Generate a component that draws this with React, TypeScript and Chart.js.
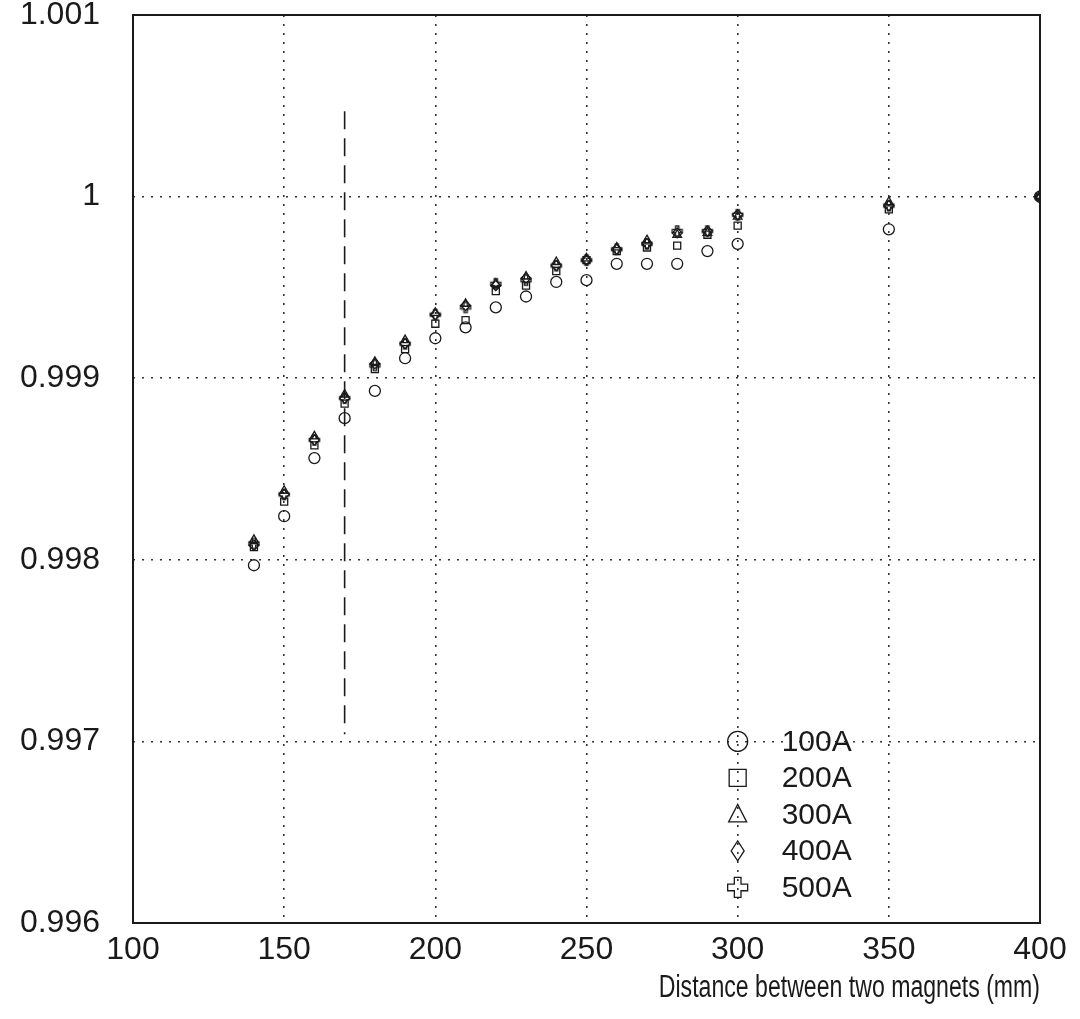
import React, { useEffect, useRef } from "react";
import { Chart, registerables } from "chart.js";

Chart.register(...registerables);

const distances = [140, 150, 160, 170, 180, 190, 200, 210, 220, 230, 240, 250, 260, 270, 280, 290, 300, 350, 400];
const series100A = [0.99797, 0.99824, 0.99856, 0.99878, 0.99893, 0.99911, 0.99922, 0.99928, 0.99939, 0.99945, 0.99953, 0.99954, 0.99963, 0.99963, 0.99963, 0.9997, 0.99974, 0.99982, 1.0];
const series200A = [0.99807, 0.99832, 0.99863, 0.99886, 0.99905, 0.99916, 0.9993, 0.99932, 0.99948, 0.99951, 0.99959, 0.99965, 0.9997, 0.99972, 0.99973, 0.99979, 0.99984, 0.99993, 1.0];
const series300A = [0.99811, 0.99838, 0.99868, 0.99891, 0.99909, 0.99921, 0.99936, 0.99941, 0.99952, 0.99956, 0.99964, 0.99966, 0.99972, 0.99976, 0.99979, 0.9998, 0.99989, 0.99997, 1.0];
const series400A = [0.99808, 0.99836, 0.99866, 0.99889, 0.99908, 0.99919, 0.99935, 0.9994, 0.99951, 0.99955, 0.99962, 0.99965, 0.99971, 0.99974, 0.9998, 0.99981, 0.9999, 0.99995, 1.0];
const series500A = [0.99809, 0.99836, 0.99866, 0.99889, 0.99907, 0.99919, 0.99935, 0.99939, 0.99952, 0.99954, 0.99962, 0.99965, 0.99971, 0.99974, 0.99981, 0.99981, 0.9999, 0.99995, 1.0];
const seriesLabels = ["100A", "200A", "300A", "400A", "500A"];
const markerLineX = [170, 170];
const markerLineY = [1.00047, 0.99704];
const xTitle = "Distance between two magnets (mm)";

const INK = "#1a1a1a";
const FONT = "'Liberation Sans', Arial, sans-serif";

function plusShape(size: number, lw: number): HTMLCanvasElement {
  const c = document.createElement("canvas");
  c.width = size + 4;
  c.height = size + 4;
  const g = c.getContext("2d")!;
  const o = 2;
  const t = size / 3;
  g.strokeStyle = INK;
  g.lineWidth = lw;
  g.beginPath();
  g.moveTo(o + t, o);
  g.lineTo(o + 2 * t, o);
  g.lineTo(o + 2 * t, o + t);
  g.lineTo(o + size, o + t);
  g.lineTo(o + size, o + 2 * t);
  g.lineTo(o + 2 * t, o + 2 * t);
  g.lineTo(o + 2 * t, o + size);
  g.lineTo(o + t, o + size);
  g.lineTo(o + t, o + 2 * t);
  g.lineTo(o, o + 2 * t);
  g.lineTo(o, o + t);
  g.lineTo(o + t, o + t);
  g.closePath();
  g.stroke();
  return c;
}

function drawMarker(ctx: CanvasRenderingContext2D, kind: number, x: number, y: number, r: number) {
  ctx.beginPath();
  if (kind === 0) {
    ctx.arc(x, y, r, 0, Math.PI * 2);
  } else if (kind === 1) {
    ctx.rect(x - r * 0.85, y - r * 0.85, r * 1.7, r * 1.7);
  } else if (kind === 2) {
    ctx.moveTo(x, y - r);
    ctx.lineTo(x + r * 0.9, y + r * 0.75);
    ctx.lineTo(x - r * 0.9, y + r * 0.75);
    ctx.closePath();
  } else if (kind === 3) {
    ctx.moveTo(x, y - r);
    ctx.lineTo(x + r * 0.65, y);
    ctx.lineTo(x, y + r);
    ctx.lineTo(x - r * 0.65, y);
    ctx.closePath();
  } else {
    const t = r / 1.5;
    const s = r;
    ctx.moveTo(x - t / 2, y - s);
    ctx.lineTo(x + t / 2, y - s);
    ctx.lineTo(x + t / 2, y - t / 2);
    ctx.lineTo(x + s, y - t / 2);
    ctx.lineTo(x + s, y + t / 2);
    ctx.lineTo(x + t / 2, y + t / 2);
    ctx.lineTo(x + t / 2, y + s);
    ctx.lineTo(x - t / 2, y + s);
    ctx.lineTo(x - t / 2, y + t / 2);
    ctx.lineTo(x - s, y + t / 2);
    ctx.lineTo(x - s, y - t / 2);
    ctx.lineTo(x - t / 2, y - t / 2);
    ctx.closePath();
  }
  ctx.stroke();
}

const framePlugin = {
  id: "frameAndLegend",
  afterDraw(chart: any) {
    const { ctx, chartArea: a, scales } = chart;
    ctx.save();
    ctx.strokeStyle = INK;
    ctx.lineWidth = 2;
    ctx.strokeRect(a.left, a.top, a.right - a.left, a.bottom - a.top);
    // legend
    const mx = scales.x.getPixelForValue(300);
    const y0 = scales.y.getPixelForValue(0.997);
    const step = 36.5;
    ctx.lineWidth = 1.3;
    ctx.font = `30px ${FONT}`;
    ctx.textBaseline = "middle";
    ctx.textAlign = "left";
    seriesLabels.forEach((lab, i) => {
      const y = y0 + i * step;
      ctx.strokeStyle = INK;
      drawMarker(ctx, i, mx, y, 10);
      ctx.fillStyle = INK;
      ctx.fillText(lab, mx + 44, y + 1);
    });
    // x-axis title, horizontally condensed
    ctx.font = `31px ${FONT}`;
    ctx.textAlign = "right";
    ctx.textBaseline = "middle";
    ctx.fillStyle = INK;
    ctx.translate(a.right, a.bottom + 65);
    ctx.scale(0.745, 1);
    ctx.fillText(xTitle, 0, 0);
    ctx.restore();
  },
};

export default function App() {
  const ref = useRef<HTMLCanvasElement | null>(null);
  useEffect(() => {
    document.body.style.margin = "0";
    const toPts = (ys: number[]) => distances.map((x, i) => ({ x, y: ys[i] }));
    const styles: any[] = ["circle", "rect", "triangle", "rectRot", plusShape(10, 1.3)];
    const all = [series100A, series200A, series300A, series400A, series500A];
    const datasets: any[] = all.map((ys, i) => ({
      label: seriesLabels[i],
      data: toPts(ys),
      pointStyle: styles[i],
      pointRadius: i === 0 ? 5.5 : 5,
      borderColor: INK,
      backgroundColor: "rgba(0,0,0,0)",
      pointBorderWidth: 1.3,
      showLine: false,
    }));
    datasets.push({
      label: "limit",
      data: markerLineX.map((x, i) => ({ x, y: markerLineY[i] })),
      showLine: true,
      pointRadius: 0,
      borderColor: INK,
      borderWidth: 1.6,
      borderDash: [18, 9],
    });
    const gridColor = (c: any) => {
      const s = c.scale;
      if (!c.tick) return "rgba(0,0,0,0)";
      const v = c.tick.value;
      return Math.abs(v - s.min) < 1e-9 || Math.abs(v - s.max) < 1e-9 ? "rgba(0,0,0,0)" : "#333";
    };
    const chart = new Chart(ref.current!, {
      type: "scatter",
      data: { datasets },
      options: {
        animation: false,
        responsive: true,
        maintainAspectRatio: false,
        layout: { padding: { left: 0, top: 15, right: 40, bottom: 0 } },
        plugins: { legend: { display: false }, tooltip: { enabled: false } },
        scales: {
          x: {
            type: "linear",
            min: 100,
            max: 400,
            ticks: { stepSize: 50, color: INK, font: { family: FONT, size: 32 }, padding: 8, maxRotation: 0 },
            grid: { color: gridColor, lineWidth: 1.6, drawTicks: false },
            border: { display: false, dash: [2, 7] },
            title: { display: false, text: xTitle },
            afterFit: (s: any) => { s.height = 96; s.paddingLeft = 0; s.paddingRight = 0; },
          },
          y: {
            type: "linear",
            min: 0.996,
            max: 1.001,
            ticks: {
              stepSize: 0.001,
              color: INK,
              font: { family: FONT, size: 32 },
              padding: 33,
              callback: (v: any) => String(parseFloat(Number(v).toFixed(3))),
            },
            grid: { color: gridColor, lineWidth: 1.6, drawTicks: false },
            border: { display: false, dash: [2, 7] },
            afterFit: (s: any) => { s.width = 133; s.paddingTop = 0; s.paddingBottom = 0; },
          },
        },
      },
      plugins: [framePlugin],
    });
    return () => chart.destroy();
  }, []);
  return (
    <div style={{ width: 1080, height: 1019, position: "relative", background: "#fff" }}>
      <canvas ref={ref} />
    </div>
  );
}
